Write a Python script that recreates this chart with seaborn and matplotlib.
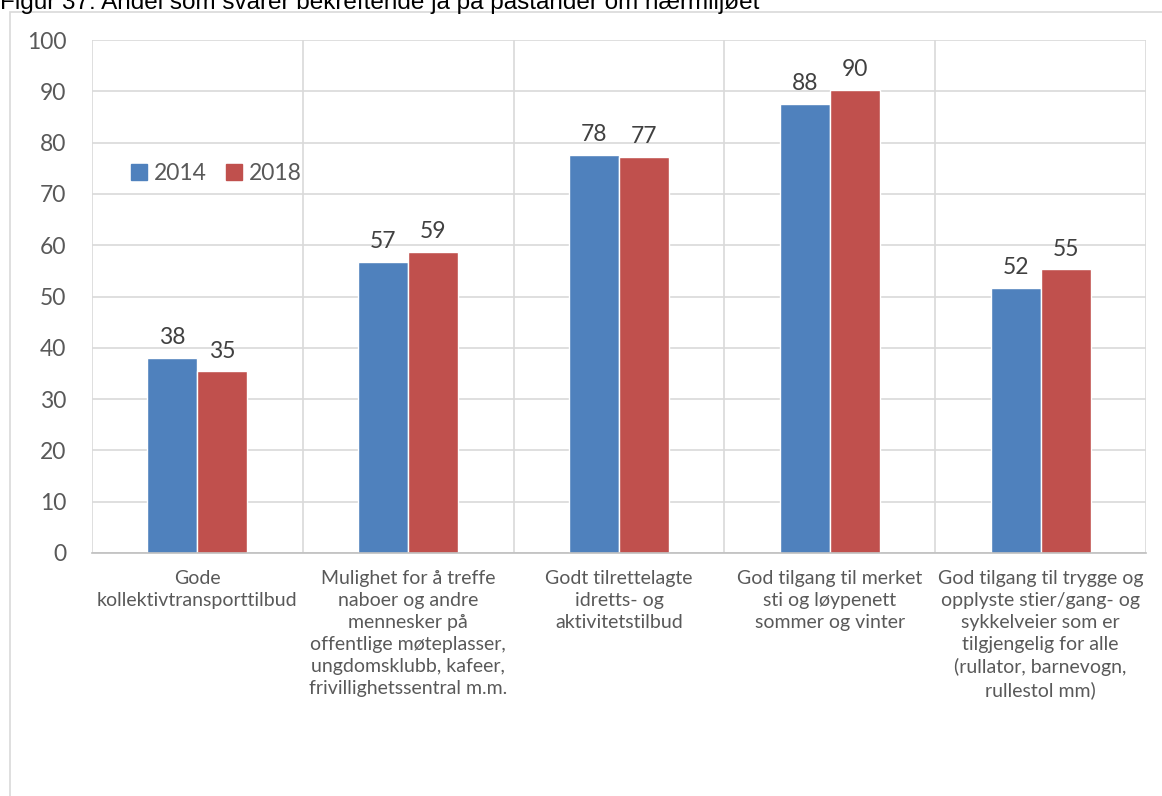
import matplotlib
matplotlib.use("Agg")
import matplotlib.pyplot as plt
import matplotlib.patches as mpatches
import seaborn as sns
import pandas as pd

# data
categories = [
    "Gode\nkollektivtransporttilbud",
    "Mulighet for å treffe\nnaboer og andre\nmennesker på\noffentlige møteplasser,\nungdomsklubb, kafeer,\nfrivillighetssentral m.m.",
    "Godt tilrettelagte\nidretts- og\naktivitetstilbud",
    "God tilgang til merket\nsti og løypenett\nsommer og vinter",
    "God tilgang til trygge og\nopplyste stier/gang- og\nsykkelveier som er\ntilgjengelig for alle\n(rullator, barnevogn,\nrullestol mm)",
]
years = ["2014", "2018"]
values_2014 = [38.0, 56.7, 77.6, 87.6, 51.7]
values_2018 = [35.4, 58.7, 77.2, 90.3, 55.3]
colors = ["#4F81BD", "#C0504D"]
title = "Figur 37: Andel som svarer bekreftende ja på påstander om nærmiljøet"

df = pd.DataFrame({
    "kategori": categories * 2,
    "år": [years[0]] * 5 + [years[1]] * 5,
    "verdi": values_2014 + values_2018,
})

sns.set_style("white")
plt.rcParams["font.family"] = ["Lato", "DejaVu Sans"]

fig = plt.figure(figsize=(11.62, 7.96), dpi=100)
ax = fig.add_axes([0.0792, 0.3053, 0.907, 0.6444])

sns.barplot(data=df, x="kategori", y="verdi", hue="år", palette=colors,
            width=0.474, saturation=1, ax=ax, legend=False)

# data labels
for cont in ax.containers:
    ax.bar_label(cont, labels=[f"{v:.0f}" for v in cont.datavalues],
                 padding=7, fontsize=16.5, color="#404040")

ax.set_ylim(0, 100)
ax.set_xlim(-0.5, 4.5)
ax.set_yticks(range(0, 101, 10))
ax.set_xlabel("")
ax.set_ylabel("")

# gridlines: horizontal at ticks, vertical at category boundaries
ax.set_axisbelow(True)
ax.yaxis.grid(True, color="#D9D9D9", linewidth=1.2)
ax.set_xticks([x + 0.5 for x in range(-1, 5)], minor=True)
ax.xaxis.grid(True, which="minor", color="#D9D9D9", linewidth=1.2)
ax.tick_params(axis="x", which="minor", length=6, color="#BFBFBF", width=1)
ax.tick_params(axis="x", which="major", length=0, pad=12, labelsize=14,
               labelcolor="#595959")
ax.tick_params(axis="y", length=0, pad=18.5, labelsize=16.5, labelcolor="#595959")
for lab in ax.get_xticklabels():
    lab.set_verticalalignment("top")
    lab.set_linespacing(1.36)

for s in ["top", "right", "left"]:
    ax.spines[s].set_visible(False)
ax.spines["bottom"].set_color("#BFBFBF")
ax.spines["bottom"].set_linewidth(1.2)

# legend
handles = [mpatches.Patch(color=c, label=y) for c, y in zip(colors, years)]
ax.legend(handles=handles, loc="center left", bbox_to_anchor=(0.017, 0.74),
          ncol=2, frameon=False, fontsize=16.5, handlelength=0.7,
          handleheight=0.7, handletextpad=0.3, columnspacing=0.85,
          labelcolor="#595959")

# outer chart frame and clipped title
fig.patches.append(mpatches.Rectangle((10 / 1162, -0.01), 1.0, 1 - 12 / 796 + 0.01,
                                      transform=fig.transFigure, fill=False,
                                      edgecolor="#D9D9D9", linewidth=1.2))
fig.text(0.0, 1 - 9 / 796, title, fontsize=17.5, family=["Liberation Sans"],
         color="#000000", va="baseline", ha="left")

fig.savefig("out.png", dpi=100)
